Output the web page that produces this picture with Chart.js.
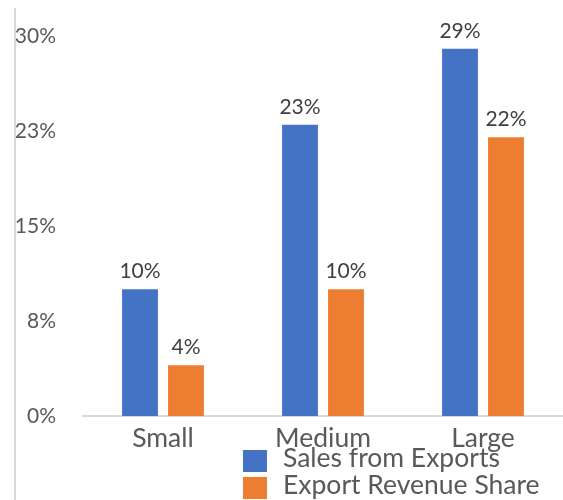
<!DOCTYPE html>
<html><head><meta charset="utf-8">
<script src="https://cdn.jsdelivr.net/npm/chart.js@4.4.0/dist/chart.umd.min.js"></script>
<style>html,body{margin:0;padding:0;background:#fff;overflow:hidden;} #wrap{position:relative;width:563px;height:500px;}</style>
</head><body><div id="wrap"><canvas id="c" width="563" height="500"></canvas></div>
<script>
const categories = ['Small', 'Medium', 'Large'];
const seriesNames = ['Sales from Exports', 'Export Revenue Share'];
const salesFromExports = [10, 23, 29];
const exportRevenueShare = [4, 10, 22];
const yTicks = [0, 7.5, 15, 22.5, 30];
const colors = ['#4472C4', '#ED7D31'];

const frameLine = {
  id: 'frameLine',
  beforeDraw(chart) {
    const ctx = chart.ctx;
    ctx.save();
    ctx.fillStyle = '#d9d9d9';
    ctx.fillRect(14, 8, 2, 492);
    ctx.restore();
  }
};

const dataLabels = {
  id: 'dataLabels',
  afterDatasetsDraw(chart) {
    const ctx = chart.ctx;
    ctx.save();
    ctx.font = '21px Lato';
    ctx.fillStyle = '#404040';
    ctx.textAlign = 'center';
    ctx.textBaseline = 'alphabetic';
    chart.data.datasets.forEach((ds, i) => {
      chart.getDatasetMeta(i).data.forEach((bar, j) => {
        ctx.fillText(Math.round(ds.data[j]) + '%', bar.x, bar.y - 11);
      });
    });
    ctx.restore();
  }
};

const customLegend = {
  id: 'customLegend',
  afterDraw(chart) {
    const ctx = chart.ctx;
    ctx.save();
    ctx.font = '26.5px Lato';
    ctx.textAlign = 'left';
    ctx.textBaseline = 'alphabetic';
    chart.data.datasets.forEach((ds, i) => {
      const y = 450 + i * 27;
      ctx.fillStyle = ds.backgroundColor;
      ctx.fillRect(243, y, 24, 22);
      ctx.fillStyle = '#595959';
      ctx.fillText(ds.label, 283, y + 17);
    });
    ctx.restore();
  }
};

new Chart(document.getElementById('c'), {
  type: 'bar',
  data: {
    labels: categories,
    datasets: [
      { label: seriesNames[0], data: salesFromExports, backgroundColor: colors[0] },
      { label: seriesNames[1], data: exportRevenueShare, backgroundColor: colors[1] }
    ]
  },
  options: {
    responsive: false,
    animation: false,
    devicePixelRatio: 1,
    layout: { padding: { top: 36, left: 16, right: 0, bottom: 0 } },
    datasets: { bar: { categoryPercentage: 0.575, barPercentage: 0.78 } },
    plugins: { legend: { display: false }, tooltip: { enabled: false } },
    scales: {
      x: {
        grid: { display: false, drawTicks: false },
        border: { display: true, color: '#d9d9d9', width: 2 },
        ticks: { color: '#595959', font: { family: 'Lato', size: 26.5 }, padding: 7 },
        afterFit(s) { s.height = 84; }
      },
      y: {
        min: 0, max: 30,
        grid: { display: false, drawTicks: false },
        border: { display: false },
        afterBuildTicks(s) { s.ticks = yTicks.map(v => ({ value: v })); },
        ticks: {
          color: '#595959', font: { family: 'Lato', size: 21 }, padding: 27,
          callback: v => Math.round(v) + '%'
        },
        afterFit(s) { s.width = 67; s.paddingTop = 0; s.paddingBottom = 0; }
      }
    }
  },
  plugins: [frameLine, dataLabels, customLegend]
});
</script></body></html>
